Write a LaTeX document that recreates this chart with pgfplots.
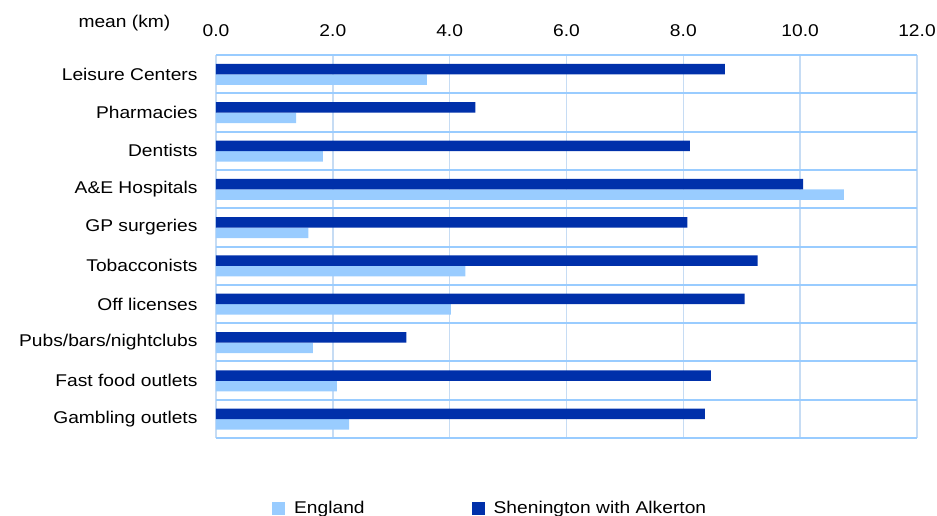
\documentclass[border=0pt]{standalone}
\usepackage{fontspec}
\setmainfont[FakeStretch=1.13]{Liberation Sans}
\usepackage{pgfplots}
\pgfplotsset{compat=1.18}
\definecolor{darkbar}{RGB}{0,48,170}
\definecolor{lightbar}{RGB}{153,204,255}
\definecolor{hgrid}{RGB}{153,204,255}
\definecolor{vgrid}{RGB}{198,220,244}
\pgfplotstableread{
idx england shen
0 3.61 8.71
1 1.37 4.44
2 1.83 8.11
3 10.75 10.05
4 1.58 8.07
5 4.27 9.27
6 4.02 9.05
7 1.66 3.26
8 2.07 8.47
9 2.28 8.37
}\data
\begin{document}
\begin{tikzpicture}[font=\fontsize{17bp}{20bp}\selectfont]
\useasboundingbox (-216bp,-78bp) rectangle (721bp,438bp);
\begin{axis}[
  scale only axis, width=701bp, height=383bp,
  xmin=0, xmax=12, ymin=-0.5, ymax=9.5,
  y dir=reverse, clip=false,
  axis line style={draw=none},
  xbar, bar width=10.5bp,
  xtick={0,2,...,12},
  xticklabel pos=right,
  xticklabel style={anchor=base, yshift=19bp},
  /pgf/number format/.cd, fixed, fixed zerofill, precision=1, assume math mode=true,
  /pgfplots/.cd,
  xmajorgrids, major grid style={vgrid, line width=1.6bp},
  ytick={0,...,9},
  yticklabels={Leisure Centers, Pharmacies, Dentists, A\&E Hospitals, GP surgeries, Tobacconists, Off licenses, Pubs/bars/nightclubs, Fast food outlets, Gambling outlets},
  yticklabel style={anchor=east, xshift=-15bp},
  extra y ticks={-0.5,0.5,...,9.5},
  extra y tick labels={},
  extra y tick style={ymajorgrids=true, xmajorgrids=false, major grid style={hgrid, line width=2bp}},
  major tick length=0pt,
  legend columns=2,
  legend style={draw=none, at={(rel axis cs:0,0)}, anchor=north west, xshift=53bp, yshift=-59bp,
    /tikz/every odd column/.append style={column sep=7bp},
    /tikz/every even column/.append style={column sep=105bp}},
  legend image code/.code={\fill[#1] (0bp,-7bp) rectangle (13bp,6bp);},
]
\addplot[fill=lightbar, draw=none, bar shift=-5.5bp] table[x=england, y=idx] {\data};
\addplot[fill=darkbar, draw=none, bar shift=5bp] table[x=shen, y=idx] {\data};
\legend{England, Shenington with Alkerton}
\node[anchor=base west, xshift=-141bp, yshift=28bp] at (rel axis cs:0,1) {mean (km)};
\end{axis}
\end{tikzpicture}
\end{document}
